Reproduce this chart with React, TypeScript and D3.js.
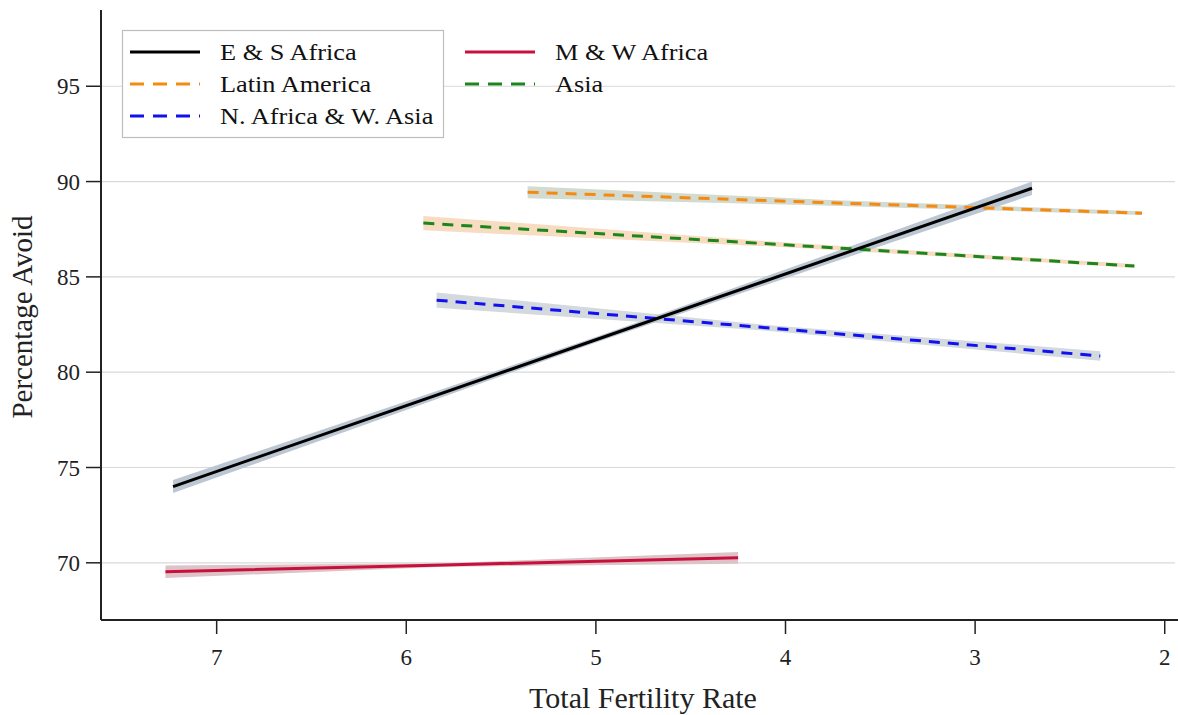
import React from "react";
import * as d3 from "d3";

// fitted lines: TFR at start / middle / end, fitted value and CI bounds
const regions = ["E & S Africa", "Latin America", "N. Africa & W. Asia", "M & W Africa", "Asia"];

const esTfr = [7.23, 5.0, 2.7];
const esFit = [74.0, 81.7, 89.65];
const esLo = [73.66, 81.56, 89.3];
const esHi = [74.34, 81.84, 90.0];

const laTfr = [5.36, 3.8, 2.12];
const laFit = [89.44, 88.9, 88.34];
const laLo = [89.12, 88.75, 88.24];
const laHi = [89.76, 89.05, 88.44];

const naTfr = [5.84, 4.1, 2.34];
const naFit = [83.78, 82.33, 80.85];
const naLo = [83.38, 82.18, 80.6];
const naHi = [84.18, 82.48, 81.1];

const mwTfr = [7.27, 5.8, 4.25];
const mwFit = [69.53, 69.89, 70.26];
const mwLo = [69.2, 69.8, 69.95];
const mwHi = [69.86, 69.98, 70.57];

const asTfr = [5.91, 4.0, 2.16];
const asFit = [87.82, 86.68, 85.57];
const asLo = [87.44, 86.56, 85.47];
const asHi = [88.2, 86.8, 85.67];

const xTicks = [7, 6, 5, 4, 3, 2];
const yTicks = [70, 75, 80, 85, 90, 95];

const W = 1178;
const H = 715;
const left = 101;
const bottom = 620;
const top = 10;
const font = "'Liberation Serif', 'DejaVu Serif', serif";

type Series = {name: string; tfr: number[]; fit: number[]; lo: number[]; hi: number[]; color: string; band: string; dash: string | null};

const series: Series[] = [
  {name: regions[3], tfr: mwTfr, fit: mwFit, lo: mwLo, hi: mwHi, color: "#c8103c", band: "#dcc3c8", dash: null},
  {name: regions[4], tfr: asTfr, fit: asFit, lo: asLo, hi: asHi, color: "#1c861c", band: "#f8dcc2", dash: "11,8"},
  {name: regions[1], tfr: laTfr, fit: laFit, lo: laLo, hi: laHi, color: "#f68a0f", band: "#d3dad0", dash: "11,8"},
  {name: regions[2], tfr: naTfr, fit: naFit, lo: naLo, hi: naHi, color: "#1010f0", band: "#d3d9dd", dash: "11,8"},
  {name: regions[0], tfr: esTfr, fit: esFit, lo: esLo, hi: esHi, color: "#000000", band: "#bcc7d3", dash: null},
];

const legendItems = [
  {name: regions[0], color: "#000000", dash: null, col: 0, row: 0},
  {name: regions[1], color: "#f68a0f", dash: "14,9", col: 0, row: 1},
  {name: regions[2], color: "#1010f0", dash: "14,9", col: 0, row: 2},
  {name: regions[3], color: "#c8103c", dash: null, col: 1, row: 0},
  {name: regions[4], color: "#1c861c", dash: "14,9", col: 1, row: 1},
];

export default function App() {
  const x = d3.scaleLinear().domain([7.61, 1.93]).range([left, W]);
  const y = d3.scaleLinear().domain([67, 99]).range([bottom, top]);

  const line = d3.line<[number, number]>().x(d => x(d[0])).y(d => y(d[1]));
  const area = d3.area<[number, number, number]>()
    .x(d => x(d[0]))
    .y0(d => y(d[1]))
    .y1(d => y(d[2]));

  return (
    <svg width={W} height={H} style={{position: "absolute", left: 0, top: 0, background: "#fff"}}>
      {/* gridlines */}
      {yTicks.map(t => (
        <line key={"g" + t} x1={left} x2={1175} y1={y(t)} y2={y(t)} stroke="#d9d9d9" strokeWidth={1.2}/>
      ))}

      {/* bands */}
      {series.map(s => (
        <path key={"b" + s.name}
          d={area(s.tfr.map((v, i) => [v, s.lo[i], s.hi[i]] as [number, number, number])) || ""}
          fill={s.band} stroke="none"/>
      ))}
      {/* fitted lines */}
      {series.map(s => (
        <path key={"l" + s.name}
          d={line(s.tfr.map((v, i) => [v, s.fit[i]] as [number, number])) || ""}
          fill="none" stroke={s.color} strokeWidth={3}
          strokeDasharray={s.dash || undefined}/>
      ))}

      {/* y axis */}
      <line x1={left} x2={left} y1={top} y2={bottom} stroke="#222" strokeWidth={2}/>
      {yTicks.map(t => (
        <g key={"y" + t} transform={`translate(0,${y(t)})`}>
          <line x1={left - 15} x2={left} stroke="#222" strokeWidth={1.5}/>
          <text x={80} dy="0.35em" textAnchor="end" fontFamily={font} fontSize={23} fill="#222">{t}</text>
        </g>
      ))}
      <text transform={`translate(32,${317}) rotate(-90)`} textAnchor="middle"
        fontFamily={font} fontSize={29} fill="#222">Percentage Avoid</text>

      {/* x axis */}
      <line x1={left} x2={W} y1={bottom} y2={bottom} stroke="#222" strokeWidth={2}/>
      {xTicks.map(t => (
        <g key={"x" + t} transform={`translate(${x(t)},0)`}>
          <line y1={bottom} y2={bottom + 14} stroke="#222" strokeWidth={1.5}/>
          <text y={657} dy="0.35em" textAnchor="middle" fontFamily={font} fontSize={23} fill="#222">{t}</text>
        </g>
      ))}
      <text x={643} y={697} dy="0.35em" textAnchor="middle"
        fontFamily={font} fontSize={30} fill="#222">Total Fertility Rate</text>

      {/* legend */}
      <rect x={122.5} y={30.5} width={321} height={107} fill="#fff" stroke="#bdbdbd" strokeWidth={1.2}/>
      {legendItems.map(d => {
        const lx = 130 + d.col * 335;
        const ly = 52 + d.row * 32;
        return (
          <g key={"lg" + d.name}>
            <line x1={lx} x2={lx + 70} y1={ly} y2={ly} stroke={d.color} strokeWidth={3}
              strokeDasharray={d.dash || undefined}/>
            <text transform={`translate(${lx + 90},${ly}) scale(1.17,1)`} dy="0.35em"
              fontFamily={font} fontSize={22.5} fill="#111">{d.name}</text>
          </g>
        );
      })}
    </svg>
  );
}
